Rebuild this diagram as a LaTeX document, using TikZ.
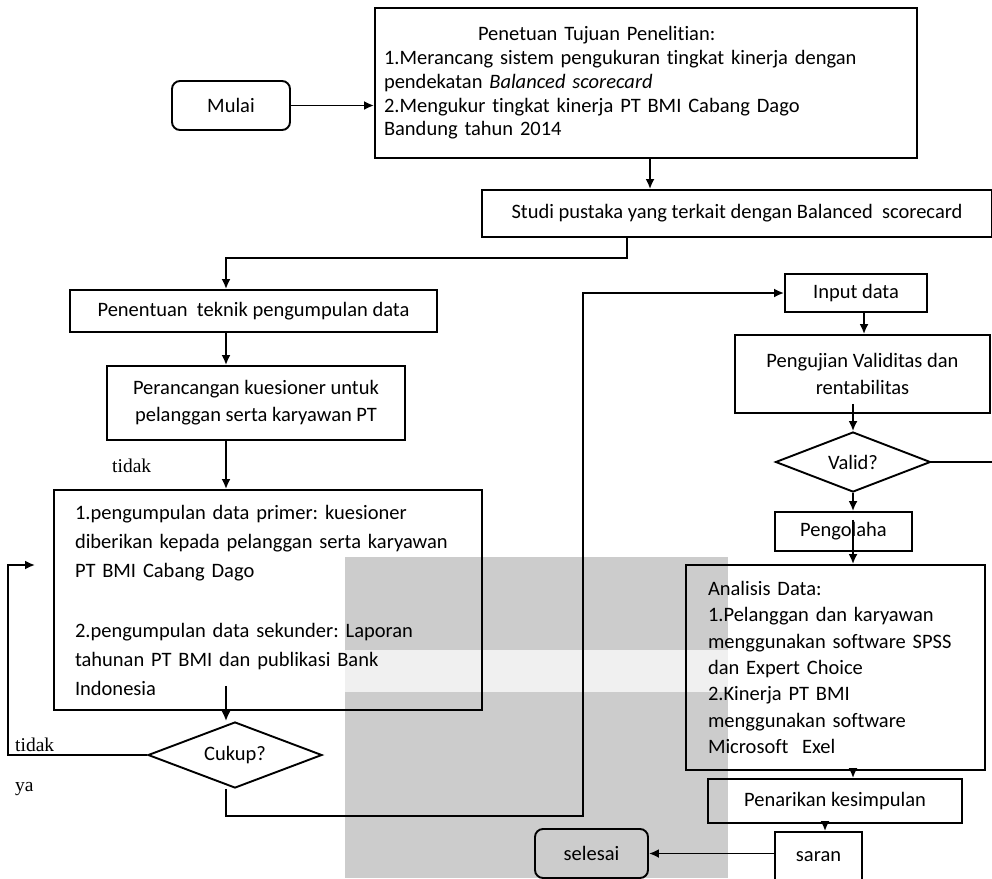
\documentclass[tikz,border=0pt]{standalone}
\usepackage{fontspec}
\setmainfont{Carlito}[RawFeature={-liga}]
\newfontfamily\lblfont{Liberation Serif}
\usetikzlibrary{shapes.geometric,arrows.meta,calc}
\frenchspacing
\begin{document}
\begin{tikzpicture}[x=1pt,y=-1pt,
  font=\fontsize{20.5}{23.75}\selectfont,
  box/.style={draw,line width=1.9pt,rectangle,inner sep=0pt,align=center},
  rbox/.style={box,rounded corners=8pt},
  dia/.style={draw,line width=1.9pt,diamond,inner sep=0pt,aspect=2.6},
  arr/.style={line width=1.9pt,-{Latex[length=10pt,width=9pt]}},
  ln/.style={line width=1.9pt},
  lbl/.style={font=\lblfont\fontsize{19.5}{22}\selectfont,anchor=west,inner sep=0pt}
]
\useasboundingbox (0,0) rectangle (992,878);
\fill[white] (0,0) rectangle (992,878);
\fill[black!20] (345,557) rectangle (728,878);
\fill[black!6] (345,650) rectangle (728,692);

% axes and bend points
\coordinate (lx) at (226,0);
\coordinate (rx) at (853,0);
\coordinate (sx) at (825,0);
\coordinate (j1) at (627,258);
\coordinate (j2) at (583,816);
\coordinate (lp) at (8,565);
\coordinate (la) at (35,565);
\coordinate (re) at (993,462);

% nodes
\node[rbox,minimum width=118pt,minimum height=49pt] (mulai) at (231,105.5) {Mulai};
\node[box,minimum height=150pt,text width=524pt,inner xsep=9pt,align=left] (goal) at (646,83)
 {\hspace*{94pt}Penetuan Tujuan Penelitian:\\
  1.Merancang sistem pengukuran tingkat kinerja dengan\\
  pendekatan \textit{Balanced scorecard}\\
  2.Mengukur tingkat kinerja PT BMI Cabang Dago\\
  Bandung tahun 2014};
\node[box,minimum width=510pt,minimum height=47pt] (studi) at (737,213.5)
 {Studi pustaka yang terkait dengan Balanced\ \ scorecard};
\node[box,minimum width=367pt,minimum height=42pt] (penentuan) at (253.5,311)
 {Penentuan\ \ teknik pengumpulan data};
\node[box,minimum width=298pt,minimum height=74pt,font=\fontsize{20.5}{27}\selectfont] (peranc) at (256,403)
 {Perancangan kuesioner untuk\\ pelanggan serta karyawan PT};
\node[box,minimum height=220pt,text width=386pt,inner xsep=21pt,align=left,font=\fontsize{20.5}{29}\selectfont] (data) at (268,600)
 {1.pengumpulan data primer: kuesioner\\
  diberikan kepada pelanggan serta karyawan\\
  PT BMI Cabang Dago\\[31pt]
  2.pengumpulan data sekunder: Laporan\\
  tahunan PT BMI dan publikasi Bank\\
  Indonesia};
\node[dia,minimum width=174pt,minimum height=66pt] (cukup) at (235,755) {Cukup?};

\node[box,minimum width=142pt,minimum height=38pt] (input) at (856,293) {Input data};
\node[box,minimum width=255pt,minimum height=78pt,font=\fontsize{20.5}{27}\selectfont] (uji) at (862.5,374)
 {Pengujian Validitas dan\\ rentabilitas};
\node[dia,minimum width=155pt,minimum height=60pt] (valid) at (853,462) {Valid?};
\node[box,minimum width=137pt,minimum height=39pt] (olah) at (843.5,531.5) {Pengolaha};
\node[box,minimum height=205pt,text width=255pt,inner xsep=22pt,align=left,font=\fontsize{20.5}{26.3}\selectfont] (analisis) at (835.5,667.5)
 {Analisis\ Data:\\
  1.Pelanggan dan karyawan\\
  menggunakan software SPSS\\
  dan Expert Choice\\
  2.Kinerja\ PT\ BMI\\
  menggunakan software\\
  Microsoft\ \ Exel};
\node[box,minimum width=254pt,minimum height=44pt] (tarik) at (835,801) {Penarikan kesimpulan};
\node[box,minimum width=87pt,minimum height=50pt] (saran) at (818.5,857) {saran};
\node[rbox,minimum width=113pt,minimum height=49pt] (selesai) at (591.5,853.5) {selesai};

% labels
\node[lbl] (t1) at (112,466) {tidak};
\node[lbl] (t2) at (15,745) {tidak};
\node[lbl] (ya) at (15,789) {ya};

% connectors
\draw[arr] (mulai.east) -- (mulai.east -| goal.west);
\draw[arr] ([xshift=4pt]goal.south) -- ([xshift=4pt]goal.south |- studi.north);
\draw[arr] (studi.south -| j1) -- (j1) -| (penentuan.north -| lx);
\draw[arr] (penentuan.south -| lx) -- (peranc.north -| lx);
\draw[arr] (peranc.south -| lx) -- (data.north -| lx);
\draw[arr] ([yshift=25pt]data.south -| lx) -- (cukup.north -| lx);
\draw[arr] (cukup.west) -| (lp) -- (la);
\draw[arr] (cukup.south -| lx) |- (j2) |- (input.west);
\draw[arr] ([xshift=8pt]input.south) -- ([xshift=8pt]input.south |- uji.north);
\draw[arr] ([yshift=10pt]uji.south -| rx) -- (valid.north);
\draw[ln] (valid.east) -- (re);
\draw[arr] (valid.south) -- (olah.north -| rx);
\draw[arr] ([yshift=32pt]olah.south -| rx) -- (analisis.north -| rx);
\draw[arr] (analisis.south -| rx) -- (tarik.north -| rx);
\draw[arr] (tarik.south -| sx) -- (saran.north -| sx);
\draw[arr] (saran.west |- selesai.east) -- (selesai.east);
\end{tikzpicture}
\end{document}
